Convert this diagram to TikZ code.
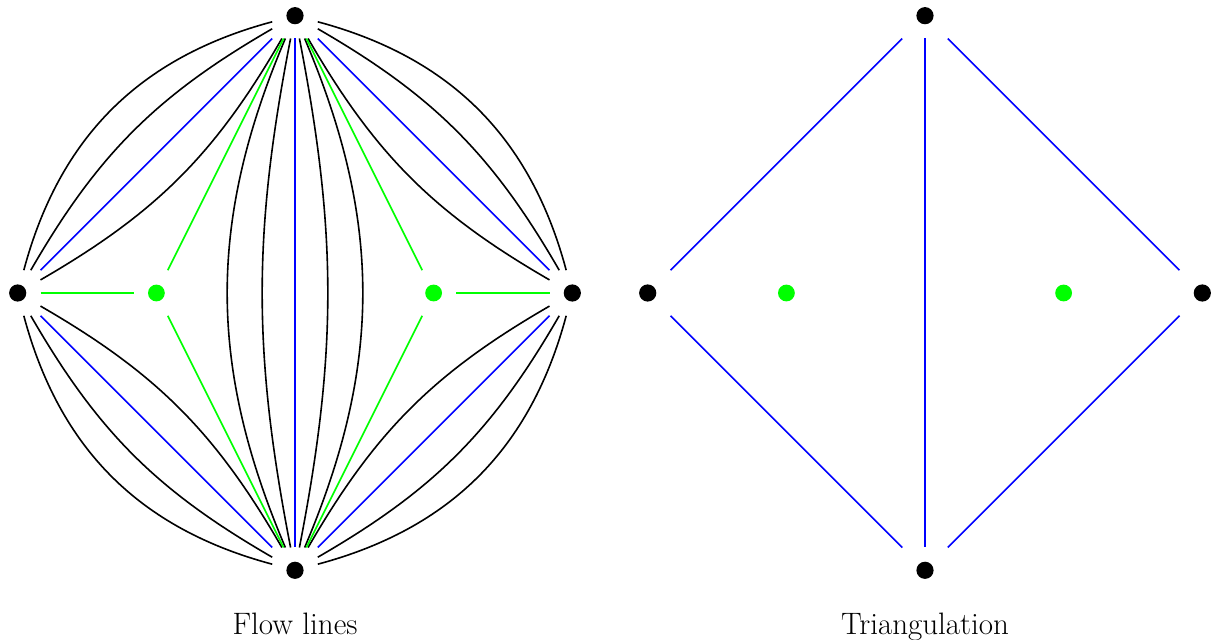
\documentclass[tikz,border=0pt]{standalone}
\begin{document}
\begin{tikzpicture}[x=1pt,y=1pt,line width=1.6pt,
  vtx/.style={rectangle,minimum size=44pt,inner sep=0pt},
  flow/.style={black},
  tri/.style={blue},
  sepline/.style={green},
  dotblack/.style={fill=black},
  dotgreen/.style={fill=green},
  caption/.style={anchor=base,font=\fontsize{31pt}{37pt}\selectfont}]
\useasboundingbox (0,0) rectangle (1216,640);
% left diagram
\node[vtx] (T) at (295,624.3) {};
\node[vtx] (B) at (295,69.7) {};
\node[vtx] (L) at (17.7,347) {};
\node[vtx] (R) at (572.3,347) {};
\node[vtx] (G1) at (156.4,347) {};
\node[vtx] (G2) at (433.6,347) {};
% right diagram
\node[vtx] (T2) at (925,624.3) {};
\node[vtx] (B2) at (925,69.7) {};
\node[vtx] (L2) at (647.7,347) {};
\node[vtx] (R2) at (1202.3,347) {};
\node[vtx] (G3) at (786.4,347) {};
\node[vtx] (G4) at (1063.6,347) {};
% flow lines in the four quadrants
\foreach \a/\b in {L/T,T/R,R/B,B/L}{
  \draw[flow] (\a) to[bend left=30] (\b);
  \draw[flow] (\a) to[bend left=15] (\b);
  \draw[tri] (\a) -- (\b);
  \draw[flow] (\a) to[bend right=15] (\b);
}
% flow lines between top and bottom
\draw[flow] (T) to[bend left=23] (B);
\draw[flow] (T) to[bend left=11] (B);
\draw[tri] (T) -- (B);
\draw[flow] (T) to[bend right=11] (B);
\draw[flow] (T) to[bend right=23] (B);
% separatrices
\draw[sepline] (L) -- (G1);
\draw[sepline] (G1) -- (T);
\draw[sepline] (G1) -- (B);
\draw[sepline] (R) -- (G2);
\draw[sepline] (G2) -- (T);
\draw[sepline] (G2) -- (B);
% triangulation
\draw[tri] (L2) -- (T2);
\draw[tri] (T2) -- (R2);
\draw[tri] (R2) -- (B2);
\draw[tri] (B2) -- (L2);
\draw[tri] (T2) -- (B2);
% dots
\foreach \n in {T,B,L,R,T2,B2,L2,R2}{\fill[dotblack] (\n) circle (8.6pt);}
\foreach \n in {G1,G2,G3,G4}{\fill[dotgreen] (\n) circle (8.4pt);}
% captions
\node[caption] (cap1) at (295,5) {Flow lines};
\node[caption] (cap2) at (925,5) {Triangulation};
\end{tikzpicture}
\end{document}
